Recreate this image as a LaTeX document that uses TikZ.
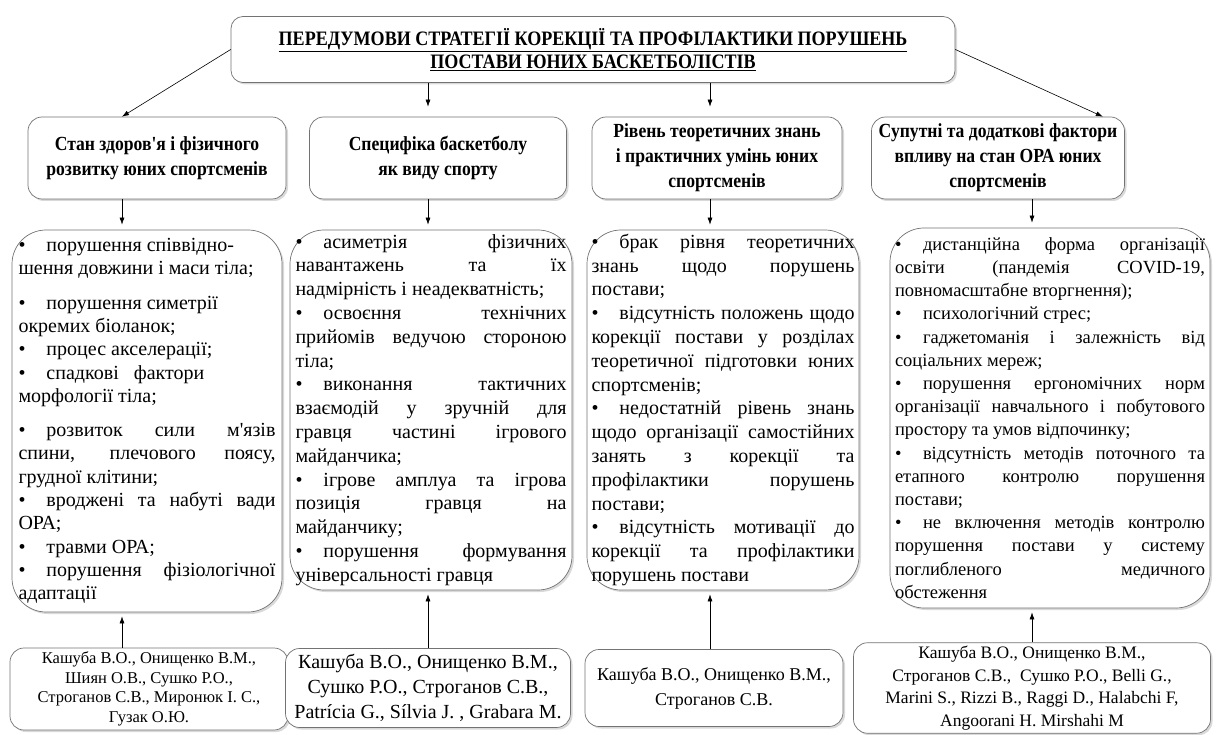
\documentclass[tikz,border=0pt]{standalone}
\usepackage{fontspec}
\setmainfont{Liberation Serif}
\newfontfamily\narrowfont[FakeStretch=0.88]{Liberation Serif}
\usepackage{tikz}
\usetikzlibrary{arrows.meta,shadows}

\newcommand{\bul}{\makebox[28pt][l]{•}}

\tikzset{
  box/.style={draw=black!55, fill=white, line width=0.7pt,
    drop shadow={opacity=0.3, shadow xshift=2pt, shadow yshift=-2pt}},
  titlebox/.style={box, rounded corners=12pt, align=center,
    font=\narrowfont\bfseries\fontsize{20.5}{22.5}\selectfont},
  headbox/.style={box, rounded corners=14pt, align=center, minimum height=82pt,
    font=\narrowfont\bfseries\fontsize{20}{25}\selectfont},
  listbox/.style={box, rounded corners=34pt, align=justify,
    font=\fontsize{20}{23.8}\selectfont},
  refbox/.style={box, rounded corners=14pt, align=center},
}

\begin{document}
\begin{tikzpicture}[x=1pt, y=-1pt, >={Latex[length=7pt,width=5pt]}, line width=0.6pt]
            \useasboundingbox (0,0) rectangle (1218,735);
            % columns of the vertical arrows
            \coordinate (c1) at (122,0);
            \coordinate (c2) at (428,0);
            \coordinate (c3) at (710,0);
            \coordinate (c4) at (1032,0);

            \node[titlebox, minimum width=724pt, minimum height=66pt] (title) at (593,49.5)
              {\underline{ПЕРЕДУМОВИ СТРАТЕГІЇ КОРЕКЦІЇ ТА ПРОФІЛАКТИКИ ПОРУШЕНЬ}\\
               \underline{ПОСТАВИ ЮНИХ БАСКЕТБОЛІСТІВ}};

            \node[headbox, minimum width=258pt] (h1) at (157,158)
              {Стан здоров'я і фізичного\\розвитку юних спортсменів};
            \node[headbox, minimum width=257pt] (h2) at (438,158)
              {Специфіка баскетболу\\як виду спорту};
            \node[headbox, minimum width=250pt] (h3) at (717,158)
              {Рівень теоретичних знань\\і практичних умінь юних\\спортсменів};
            \node[headbox, minimum width=253pt] (h4) at (998,158)
              {Супутні та додаткові фактори\\впливу на стан ОРА юних\\спортсменів};

            \node[listbox, text width=257pt, minimum width=270pt, minimum height=382pt,
                  font=\fontsize{20}{23.3}\selectfont] (l1) at (147,421)
              {\bul порушення співвідно-\\
               шення довжини і маси тіла;\\[11pt]
               \bul порушення симетрії\\
               окремих біоланок;\\
               \bul процес акселерації;\\
               \bul спадкові\hspace{10pt} фактори\\
               морфології тіла;\\[11pt]
               \bul розвиток сили м\textquotesingle язів\linebreak
               спини, плечового поясу,\linebreak
               грудної клітини;\\
               \bul вроджені та набуті вади\linebreak
               ОРА;\\
               \bul травми ОРА;\\
               \bul порушення фізіологічної\linebreak
               адаптації};
            \node[listbox, text width=271pt, minimum width=282pt, minimum height=360pt] (l2) at (431,410)
              {\bul асиметрія фізичних\linebreak
               навантажень та їх\linebreak
               надмірність і неадекватність;\\
               \bul освоєння технічних\linebreak
               прийомів ведучою стороною\linebreak
               тіла;\\
               \bul виконання тактичних\linebreak
               взаємодій у зручній для\linebreak
               гравця частині ігрового\linebreak
               майданчика;\\
               \bul ігрове амплуа та ігрова\linebreak
               позиція гравця на\linebreak
               майданчику;\\
               \bul порушення формування\linebreak
               універсальності гравця};
            \node[listbox, text width=263pt, minimum width=272pt, minimum height=360pt] (l3) at (723,410)
              {\bul брак рівня теоретичних\linebreak
               знань щодо порушень\linebreak
               постави;\\
               \bul відсутність положень щодо\linebreak
               корекції постави у розділах\linebreak
               теоретичної підготовки юних\linebreak
               спортсменів;\\
               \bul недостатній рівень знань\linebreak
               щодо організації самостійних\linebreak
               занять з корекції та\linebreak
               профілактики порушень\linebreak
               постави;\\
               \bul відсутність мотивації до\linebreak
               корекції та профілактики\linebreak
               порушень постави};
            \node[listbox, text width=310pt, minimum width=320pt, minimum height=380pt,
                  font=\fontsize{18.5}{23.2}\selectfont] (l4) at (1050,418)
              {\bul дистанційна форма організації\linebreak
               освіти (пандемія COVID-19,\linebreak
               повномасштабне вторгнення);\\
               \bul психологічний стрес;\\
               \bul гаджетоманія і залежність від\linebreak
               соціальних мереж;\\
               \bul порушення ергономічних норм\linebreak
               організації навчального і побутового\linebreak
               простору та умов відпочинку;\\
               \bul відсутність методів поточного та\linebreak
               етапного контролю порушення\linebreak
               постави;\\
               \bul не включення методів контролю\linebreak
               порушення постави у систему\linebreak
               поглибленого медичного\linebreak
               обстеження};

            \node[refbox, minimum width=278pt, minimum height=82pt, font=\fontsize{16.5}{19.5}\selectfont] (r1) at (149,689)
              {Кашуба В.О., Онищенко В.М.,\\Шиян О.В., Сушко Р.О.,\\Строганов С.В., Миронюк І. С.,\\Гузак О.Ю.};
            \node[refbox, minimum width=285pt, minimum height=79pt, font=\fontsize{20}{25}\selectfont] (r2) at (428,688)
              {Кашуба В.О., Онищенко В.М.,\\Сушко Р.О., Строганов С.В.,\\Patrícia G., Sílvia J. , Grabara M.};
            \node[refbox, minimum width=258pt, minimum height=77pt, font=\fontsize{18}{25}\selectfont] (r3) at (714,688)
              {Кашуба В.О., Онищенко В.М.,\\Строганов С.В.};
            \node[refbox, minimum width=357pt, minimum height=90pt, font=\fontsize{17.5}{22.5}\selectfont] (r4) at (1032,688)
              {Кашуба В.О., Онищенко В.М.,\\Строганов С.В.,\ \ Сушко Р.О., Belli G.,\\Marini S., Rizzi B., Raggi D., Halabchi F,\\Angoorani H. Mirshahi M};

            % title to headers
            \draw [->] (title.west) -- (h1.north -| c1);
            \draw [->] (title.east) -- ([xshift=-22pt]h4.north east);
            \draw [->, shorten >=10pt] (title.south -| c2) -- (h2.north -| c2);
            \draw [->, shorten >=10pt] (title.south -| c3) -- (h3.north -| c3);
            % headers to lists
            \foreach \i in {1,...,4}
              \draw [->, shorten >=5pt] (h\i.south -| c\i) -- (l\i.north -| c\i);
            % sources to lists
            \foreach \i in {1,...,4}
              \draw [->, shorten >=4pt] (r\i.north -| c\i) -- (l\i.south -| c\i);
        \end{tikzpicture}
\end{document}
